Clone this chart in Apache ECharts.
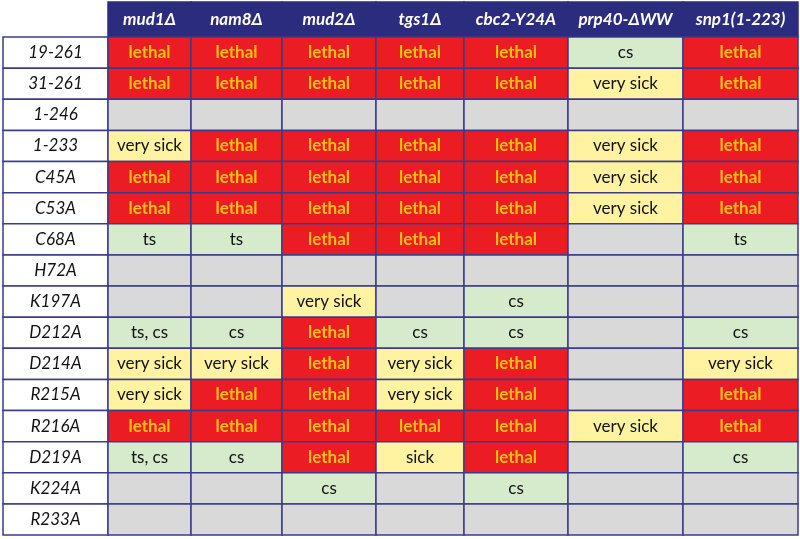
<!DOCTYPE html>
<html>
<head>
<meta charset="utf-8">
<script src="https://cdn.jsdelivr.net/npm/echarts@6/dist/echarts.min.js"></script>
<style>
  html, body { margin: 0; padding: 0; background: #fff; }
  #chart { width: 800px; height: 539px; }
</style>
</head>
<body>
<div id="chart"></div>
<script>
// strains (column headers) and mutants (row labels)
const strains = ["mud1Δ", "nam8Δ", "mud2Δ", "tgs1Δ", "cbc2-Y24A", "prp40-ΔWW", "snp1(1-223)"];
const mutants = ["19-261", "31-261", "1-246", "1-233", "C45A", "C53A", "C68A", "H72A",
  "K197A", "D212A", "D214A", "R215A", "R216A", "D219A", "K224A", "R233A"];

// phenotype per strain, one entry per mutant ("" = no phenotype)
const mud1 = ["lethal", "lethal", "", "very sick", "lethal", "lethal", "ts", "", "", "ts, cs", "very sick", "very sick", "lethal", "ts, cs", "", ""];
const nam8 = ["lethal", "lethal", "", "lethal", "lethal", "lethal", "ts", "", "", "cs", "very sick", "lethal", "lethal", "cs", "", ""];
const mud2 = ["lethal", "lethal", "", "lethal", "lethal", "lethal", "lethal", "", "very sick", "lethal", "lethal", "lethal", "lethal", "lethal", "cs", ""];
const tgs1 = ["lethal", "lethal", "", "lethal", "lethal", "lethal", "lethal", "", "", "cs", "very sick", "very sick", "lethal", "sick", "", ""];
const cbc2 = ["lethal", "lethal", "", "lethal", "lethal", "lethal", "lethal", "", "cs", "cs", "lethal", "lethal", "lethal", "lethal", "cs", ""];
const prp40 = ["cs", "very sick", "", "very sick", "very sick", "very sick", "", "", "", "", "", "", "very sick", "", "", ""];
const snp1 = ["lethal", "lethal", "", "lethal", "lethal", "lethal", "ts", "", "", "cs", "very sick", "lethal", "lethal", "cs", "", ""];

const phenotypes = [mud1, nam8, mud2, tgs1, cbc2, prp40, snp1];

// layout: column widths in px (first one is the mutant label column)
const colWidths = [105, 83, 91, 94, 88, 104, 115, 115];
const colEdges = [0];
colWidths.forEach((w) => colEdges.push(colEdges[colEdges.length - 1] + w));
const totalW = colEdges[colEdges.length - 1];

const FONT = "Lato, 'Open Sans', sans-serif";
const NAVY = "#2c2c7e";
const BORDER = "#3b3b8a";

function cellFill(v) {
  if (v === "lethal") return "#ec1c24";
  if (v === "very sick" || v === "sick") return "#fff3a1";
  if (v === "ts" || v === "cs" || v === "ts, cs") return "#d6eacc";
  return "#d9d9d9";
}

// data items: [column index, row index, text, kind]
let headerData = strains.map((s, i) => [i + 1, 0, s, "head"]);
let bodyData = [];
mutants.forEach((m, r) => {
  bodyData.push([0, r, m, "label"]);
  phenotypes.forEach((arr, c) => {
    bodyData.push([c + 1, r, arr[r], "cell"]);
  });
});

function renderCell(params, api) {
  let col = api.value(0);
  let row = api.value(1);
  let kind = headerData.length && params.seriesIndex === 0 ? "head" : null;
  let item = params.seriesIndex === 0 ? headerData[params.dataIndex] : bodyData[params.dataIndex];
  let text = item[2];
  kind = item[3];
  let p0 = api.coord([colEdges[col], row]);
  let p1 = api.coord([colEdges[col + 1], row]);
  let h = api.size([0, 1])[1];
  let rect = { x: p0[0], y: p0[1] - h / 2, width: p1[0] - p0[0], height: h };

  let fill, stroke, txtFill, font;
  if (kind === "head") {
    fill = NAVY; stroke = NAVY; txtFill = "#ffffff";
    font = "italic bold 17px " + FONT;
  } else if (kind === "label") {
    fill = "#ffffff"; stroke = BORDER; txtFill = "#111111";
    font = "italic 17px " + FONT;
  } else {
    fill = cellFill(text); stroke = BORDER;
    if (text === "lethal") {
      txtFill = "#ffc20e"; font = "bold 17px " + FONT;
    } else {
      txtFill = "#111111"; font = "17px " + FONT;
    }
  }
  return {
    type: "rect",
    shape: rect,
    style: { fill: fill, stroke: stroke, lineWidth: 1.5 },
    textContent: {
      style: { text: text, fill: txtFill, font: font, align: "center", verticalAlign: "middle" }
    },
    textConfig: { position: "inside" }
  };
}

var myChart = echarts.init(document.getElementById("chart"));
let option = {
  animation: false,
  grid: [
    { left: 3, right: 2, top: 2, height: 35 },
    { left: 3, right: 2, top: 37, bottom: 4 }
  ],
  xAxis: [
    { gridIndex: 0, type: "value", min: 0, max: totalW, show: false },
    { gridIndex: 1, type: "value", min: 0, max: totalW, show: false }
  ],
  yAxis: [
    { gridIndex: 0, type: "category", data: ["header"], show: false },
    { gridIndex: 1, type: "category", data: mutants, inverse: true, show: false }
  ],
  series: [
    {
      type: "custom",
      xAxisIndex: 0,
      yAxisIndex: 0,
      renderItem: renderCell,
      data: headerData
    },
    {
      type: "custom",
      xAxisIndex: 1,
      yAxisIndex: 1,
      renderItem: renderCell,
      data: bodyData
    }
  ]
};
myChart.setOption(option);
</script>
</body>
</html>
